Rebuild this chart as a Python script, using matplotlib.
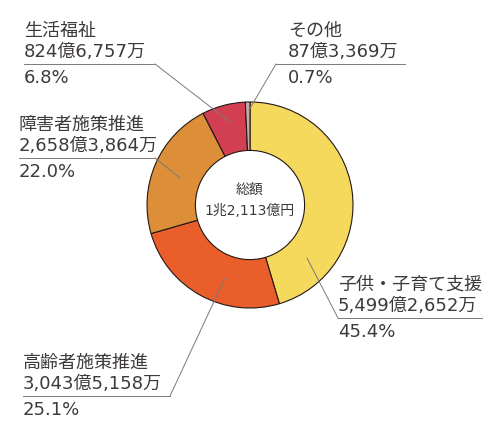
import matplotlib
matplotlib.use('Agg')
import matplotlib.pyplot as plt

# 数字は幅広のDejaVu、漢字はNoto CJKで補う
plt.rcParams['font.family'] = ['DejaVu Sans', 'Noto Sans CJK JP']

# データ（単位：億円）
categories = ['子供・子育て支援', '高齢者施策推進', '障害者施策推進', '生活福祉', 'その他']
amounts = [5499.2652, 3043.5158, 2658.3864, 824.6757, 87.3369]
amount_labels = ['5,499億2,652万', '3,043億5,158万', '2,658億3,864万', '824億6,757万', '87億3,369万']
percent_labels = ['45.4%', '25.1%', '22.0%', '6.8%', '0.7%']
total_label = ['総額', '1兆2,113億円']

colors = ['#F4D95C', '#E95E2A', '#DC8F38', '#D23F52', '#C9ABA8']
text_color = '#3E3A39'
line_color = '#7A7A7A'

H = 440
cx, cy, R = 250, H - 205, 103

fig = plt.figure(figsize=(5, 4.4), dpi=100)
ax = fig.add_axes([0, 0, 1, 1])

ax.pie(amounts, colors=colors, startangle=90, counterclock=False,
       center=(cx, cy), radius=R, frame=True,
       wedgeprops=dict(width=R * 0.47, edgecolor='#231815', linewidth=0.8))
ax.set_xlim(0, 500)
ax.set_ylim(0, H)
ax.set_aspect('equal')
ax.axis('off')

# 中央の総額
ax.text(cx, H - 190, total_label[0], ha='center', va='center', fontsize=10, color=text_color)
ax.text(cx, H - 211, total_label[1], ha='center', va='center', fontsize=10, color=text_color)

# ラベル配置（文字の左端x, 下線y, 下線の左端, 下線の右端, 引出線の先 x, y）
layout = [
    (338, 318, 338, 482, 307, 258),   # 子供・子育て支援
    (23, 396, 23, 170, 225, 278),     # 高齢者施策推進
    (19, 158, 19, 155, 180, 178),     # 障害者施策推進
    (24, 64, 24, 155, 230, 122),      # 生活福祉
    (288, 64, 276, 405, 249, 110),    # その他
]

for i, (x, ul, x0, x1, px, py) in enumerate(layout):
    ax.text(x, H - (ul - 33), categories[i], ha='left', va='center', fontsize=13, color=text_color)
    ax.text(x, H - (ul - 12), amount_labels[i], ha='left', va='center', fontsize=13, color=text_color)
    ax.text(x, H - (ul + 14), percent_labels[i], ha='left', va='center', fontsize=13, color=text_color)
    ax.plot([x0, x1], [H - ul, H - ul], color=line_color, lw=0.7)
    # 引出線は下線の円に近い側の端から
    sx = x1 if px > x1 else x0
    ax.plot([sx, px], [H - ul, H - py], color=line_color, lw=0.7)

fig.savefig('out.png', dpi=100, facecolor='white')
